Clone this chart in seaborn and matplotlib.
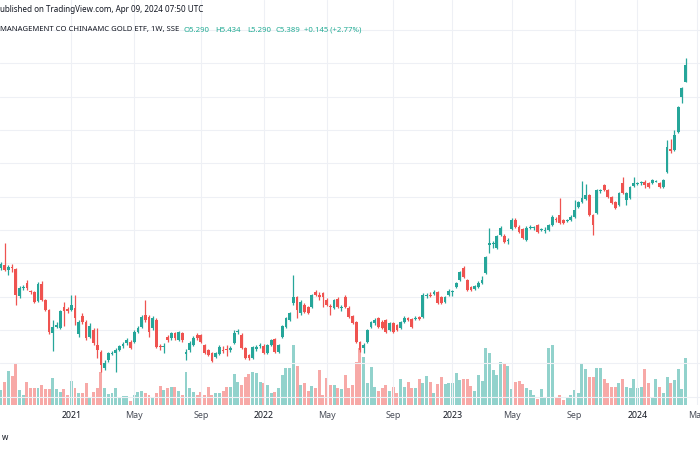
import numpy as np
import pandas as pd
import seaborn as sns
import matplotlib.pyplot as plt

# weekly OHLC of the ChinaAMC Gold ETF (SSE)
opens = [4.172, 4.190, 4.160, 4.178, 4.166, 4.004, 4.052, 4.082, 4.034, 4.028,
         3.974, 4.076, 3.980, 3.920, 3.782, 3.818, 3.812, 3.938, 3.926, 3.920,
         3.932, 3.776, 3.884, 3.848, 3.758, 3.800, 3.710, 3.668, 3.572, 3.620,
         3.656, 3.662, 3.680, 3.704, 3.722, 3.728, 3.728, 3.788, 3.818, 3.890,
         3.878, 3.812, 3.860, 3.704, 3.698, 3.758, 3.752, 3.782, 3.740, 3.782,
         3.656, 3.680, 3.710, 3.770, 3.770, 3.710, 3.680, 3.662, 3.638, 3.656,
         3.680, 3.686, 3.680, 3.722, 3.788, 3.770, 3.692, 3.650, 3.632, 3.686,
         3.704, 3.704, 3.662, 3.710, 3.746, 3.668, 3.758, 3.818, 3.860, 3.962,
         3.998, 3.902, 3.950, 3.938, 3.938, 4.028, 4.010, 4.022, 3.980, 3.944,
         3.932, 3.986, 3.932, 3.998, 3.932, 3.884, 3.848, 3.728, 3.692, 3.728,
         3.818, 3.842, 3.872, 3.848, 3.860, 3.800, 3.842, 3.830, 3.812, 3.848,
         3.872, 3.866, 3.866, 3.878, 3.878, 4.004, 4.010, 4.016, 4.028, 3.998,
         3.968, 4.010, 4.028, 4.058, 4.100, 4.172, 4.100, 4.058, 4.046, 4.058,
         4.082, 4.142, 4.310, 4.316, 4.292, 4.370, 4.364, 4.334, 4.406, 4.460,
         4.418, 4.406, 4.340, 4.412, 4.412, 4.430, 4.400, 4.394, 4.400, 4.430,
         4.466, 4.490, 4.460, 4.454, 4.460, 4.478, 4.538, 4.568, 4.586, 4.610,
         4.490, 4.502, 4.634, 4.670, 4.640, 4.598, 4.568, 4.550, 4.682, 4.580,
         4.592, 4.664, 4.676, 4.682, 4.688, 4.682, 4.682, 4.688, 4.682, 4.658,
         4.748, 4.886, 4.880, 4.988, 5.198, 5.290]
highs = [4.208, 4.322, 4.190, 4.196, 4.172, 4.064, 4.070, 4.100, 4.040, 4.034,
         4.088, 4.094, 3.986, 3.926, 3.860, 3.848, 3.920, 3.968, 3.938, 4.010,
         4.010, 3.860, 3.902, 3.860, 3.842, 3.812, 3.812, 3.680, 3.620, 3.668,
         3.674, 3.692, 3.710, 3.728, 3.752, 3.740, 3.800, 3.824, 3.890, 3.980,
         3.890, 3.884, 3.872, 3.716, 3.722, 3.770, 3.788, 3.788, 3.794, 3.788,
         3.686, 3.734, 3.764, 3.782, 3.776, 3.716, 3.686, 3.668, 3.668, 3.710,
         3.704, 3.710, 3.704, 3.800, 3.806, 3.782, 3.698, 3.656, 3.704, 3.710,
         3.722, 3.716, 3.716, 3.746, 3.752, 3.716, 3.830, 3.878, 3.908, 4.130,
         4.004, 3.980, 3.962, 3.944, 4.016, 4.040, 4.028, 4.028, 3.992, 3.956,
         3.986, 3.998, 3.950, 4.010, 3.944, 3.890, 3.854, 3.734, 3.722, 3.806,
         3.854, 3.872, 3.878, 3.860, 3.866, 3.848, 3.848, 3.836, 3.854, 3.884,
         3.878, 3.872, 3.884, 3.884, 4.022, 4.022, 4.028, 4.040, 4.034, 4.004,
         4.004, 4.046, 4.040, 4.088, 4.154, 4.184, 4.106, 4.064, 4.070, 4.094,
         4.124, 4.244, 4.412, 4.334, 4.370, 4.424, 4.376, 4.352, 4.472, 4.472,
         4.430, 4.412, 4.424, 4.430, 4.424, 4.436, 4.412, 4.418, 4.436, 4.490,
         4.478, 4.592, 4.466, 4.466, 4.490, 4.580, 4.574, 4.694, 4.676, 4.616,
         4.496, 4.646, 4.646, 4.676, 4.646, 4.604, 4.574, 4.628, 4.718, 4.628,
         4.664, 4.718, 4.688, 4.694, 4.700, 4.688, 4.706, 4.700, 4.688, 4.706,
         4.940, 4.946, 5.000, 5.144, 5.258, 5.434]
lows = [4.160, 4.154, 4.130, 4.148, 3.950, 3.992, 4.040, 4.040, 4.016, 3.962,
        3.968, 3.974, 3.914, 3.776, 3.674, 3.812, 3.806, 3.824, 3.902, 3.914,
        3.830, 3.758, 3.836, 3.740, 3.752, 3.710, 3.632, 3.548, 3.560, 3.608,
        3.650, 3.548, 3.674, 3.692, 3.710, 3.686, 3.722, 3.782, 3.812, 3.848,
        3.758, 3.800, 3.692, 3.680, 3.662, 3.728, 3.740, 3.740, 3.734, 3.728,
        3.620, 3.668, 3.704, 3.740, 3.722, 3.656, 3.644, 3.608, 3.632, 3.650,
        3.662, 3.644, 3.668, 3.716, 3.776, 3.686, 3.626, 3.620, 3.626, 3.674,
        3.692, 3.656, 3.656, 3.704, 3.662, 3.662, 3.752, 3.812, 3.854, 3.950,
        3.872, 3.890, 3.902, 3.896, 3.932, 4.004, 3.980, 3.938, 3.944, 3.890,
        3.926, 3.932, 3.914, 3.932, 3.872, 3.836, 3.722, 3.668, 3.662, 3.722,
        3.812, 3.830, 3.812, 3.806, 3.782, 3.794, 3.782, 3.794, 3.806, 3.842,
        3.854, 3.812, 3.860, 3.860, 3.872, 3.992, 3.998, 4.010, 3.956, 3.956,
        3.962, 4.004, 4.004, 4.052, 4.094, 4.112, 4.034, 4.034, 4.040, 4.052,
        4.076, 4.136, 4.262, 4.292, 4.286, 4.364, 4.322, 4.316, 4.400, 4.412,
        4.382, 4.346, 4.334, 4.406, 4.400, 4.382, 4.394, 4.382, 4.394, 4.424,
        4.448, 4.436, 4.436, 4.448, 4.454, 4.472, 4.532, 4.562, 4.580, 4.484,
        4.370, 4.496, 4.622, 4.634, 4.592, 4.556, 4.526, 4.544, 4.616, 4.550,
        4.586, 4.658, 4.670, 4.670, 4.652, 4.652, 4.676, 4.688, 4.652, 4.652,
        4.742, 4.862, 4.874, 4.982, 5.162, 5.290]
closes = [4.196, 4.160, 4.178, 4.172, 4.010, 4.052, 4.058, 4.052, 4.028, 3.968,
          4.076, 3.980, 3.920, 3.788, 3.818, 3.830, 3.914, 3.914, 3.914, 3.950,
          3.872, 3.848, 3.848, 3.752, 3.824, 3.722, 3.680, 3.590, 3.602, 3.662,
          3.662, 3.680, 3.704, 3.716, 3.740, 3.692, 3.788, 3.812, 3.878, 3.860,
          3.788, 3.872, 3.698, 3.698, 3.704, 3.740, 3.782, 3.752, 3.788, 3.740,
          3.668, 3.722, 3.752, 3.752, 3.728, 3.662, 3.650, 3.614, 3.662, 3.698,
          3.674, 3.680, 3.692, 3.782, 3.794, 3.692, 3.632, 3.632, 3.698, 3.698,
          3.710, 3.662, 3.710, 3.740, 3.668, 3.710, 3.824, 3.872, 3.902, 3.998,
          3.920, 3.968, 3.908, 3.902, 4.010, 4.010, 3.998, 3.998, 3.950, 3.938,
          3.980, 3.938, 3.938, 3.938, 3.878, 3.842, 3.728, 3.680, 3.710, 3.800,
          3.848, 3.860, 3.818, 3.812, 3.788, 3.842, 3.788, 3.800, 3.848, 3.872,
          3.860, 3.818, 3.872, 3.866, 4.010, 4.010, 4.004, 4.028, 3.962, 3.962,
          3.998, 4.034, 4.034, 4.082, 4.148, 4.118, 4.040, 4.040, 4.064, 4.082,
          4.100, 4.238, 4.322, 4.322, 4.364, 4.412, 4.328, 4.340, 4.460, 4.418,
          4.388, 4.352, 4.412, 4.418, 4.418, 4.388, 4.406, 4.400, 4.430, 4.478,
          4.460, 4.442, 4.442, 4.460, 4.478, 4.520, 4.568, 4.592, 4.610, 4.490,
          4.430, 4.640, 4.640, 4.640, 4.598, 4.562, 4.532, 4.622, 4.622, 4.622,
          4.658, 4.682, 4.682, 4.688, 4.670, 4.658, 4.700, 4.694, 4.658, 4.700,
          4.898, 4.874, 4.970, 5.138, 5.252, 5.389]
volume = [15, 23, 34, 29, 42, 15, 10, 23, 17, 17, 17, 20, 16, 16, 27, 16, 13, 16, 10, 24,
          17, 12, 12, 22, 8, 13, 17, 33, 17, 11, 12, 17, 8, 9, 9, 4, 10, 13, 14, 12,
          10, 8, 12, 19, 15, 17, 18, 18, 14, 10, 33, 17, 13, 10, 13, 10, 18, 10, 12, 12,
          14, 18, 18, 31, 23, 20, 28, 31, 33, 32, 23, 22, 20, 12, 13, 17, 30, 37, 37, 60,
          39, 20, 22, 14, 19, 17, 35, 10, 27, 20, 20, 17, 16, 30, 17, 20, 43, 57, 48, 22,
          38, 18, 14, 17, 20, 14, 18, 12, 26, 18, 23, 17, 17, 26, 22, 29, 23, 12, 21, 28,
          21, 22, 22, 32, 25, 26, 26, 19, 14, 30, 24, 57, 52, 35, 30, 43, 42, 39, 16, 23,
          24, 21, 17, 15, 10, 6, 16, 7, 57, 60, 7, 10, 5, 8, 10, 15, 12, 42, 36, 28,
          28, 37, 37, 26, 22, 18, 18, 22, 26, 18, 17, 26, 17, 18, 36, 22, 8, 26, 18, 12,
          28, 22, 25, 36, 16, 47]

# first bar of each labelled period (TradingView style bar index axis)
tick_bars = [19, 36, 54, 71, 88, 106, 122, 138, 155, 172, 188]
tick_labels = ["2021", "May", "Sep", "2022", "May", "Sep", "2023", "May", "Sep", "2024", "May"]

GREEN = "#26a69a"
RED = "#ef5350"

df = pd.DataFrame({"open": opens, "high": highs, "low": lows, "close": closes, "volume": volume})
df["bar"] = np.arange(len(df))
df["dir"] = np.where(df["close"] >= df["open"], "up", "down")

sns.set_theme(style="white")
plt.rcParams["font.family"] = ["Noto Sans", "DejaVu Sans"]

fig = plt.figure(figsize=(7, 4.5), dpi=100)
vol_ax = fig.add_axes([0, 0.1, 1, 0.9])
ax = fig.add_axes([0, 0.1, 1, 0.9], sharex=vol_ax)
ax.patch.set_visible(False)

# volume, overlaid at the bottom
sns.barplot(data=df, x="bar", y="volume", hue="dir", native_scale=True, dodge=False,
            palette={"up": "#92d2cc", "down": "#f7a9a7"}, width=0.8, saturation=1,
            legend=False, linewidth=0, ax=vol_ax)
vol_ax.set_ylim(0, max(volume) * 405 / 60)
vol_ax.set_yticks([])
vol_ax.set_xlabel("")
vol_ax.set_ylabel("")

# candles
cols = np.where(df["dir"] == "up", GREEN, RED)
ax.vlines(df["bar"], df["low"], df["high"], colors=cols, linewidth=0.9, zorder=3)
body = np.maximum((df["close"] - df["open"]).abs(), 0.004)
ax.bar(df["bar"], body, bottom=np.minimum(df["open"], df["close"]), width=0.75,
       color=cols, linewidth=0, zorder=4)

ax.set_ylim(3.35, 5.78)
ax.set_xlim(-0.27, 188.9)
ax.set_yticks(np.arange(3.4, 5.7, 0.2))
ax.tick_params(axis="y", labelleft=False, left=False)
ax.set_xticks(tick_bars)
ax.set_xticklabels(tick_labels)
ax.tick_params(axis="x", length=0, pad=4, labelsize=6.4, colors="#131722")
for lab in ax.get_xticklabels():
    if lab.get_text().isdigit():
        lab.set_fontweight("bold")
    else:
        lab.set_color("#4a4e59")
vol_ax.tick_params(axis="x", labelbottom=False, length=0)
ax.grid(True, color="#eef0f5", linewidth=0.8)
ax.set_axisbelow(True)
for a in (ax, vol_ax):
    for s in a.spines.values():
        s.set_visible(False)
ax.set_xlabel("")
ax.set_ylabel("")

# header
fig.text(0.0, 1 - 10 / 450, "ublished on TradingView.com, Apr 09, 2024 07:50 UTC",
         fontsize=5.8, color="#131722", va="center", ha="left")
fig.text(0.0, 1 - 30 / 450, "MANAGEMENT CO CHINAAMC GOLD ETF, 1W, SSE",
         fontsize=5.5, color="#131722", va="center", ha="left")
ohlc = [("O5.290", 183), ("H5.434", 215), ("L5.290", 247), ("C5.389", 276), ("+0.145 (+2.77%)", 304)]
for txt, xp in ohlc:
    fig.text(xp / 700, 1 - 30 / 450, txt, fontsize=5.6, color="#22ab94", va="center", ha="left")
fig.text(2 / 700, 1 - 438 / 450, "w", fontsize=5.8, color="#131722", va="center", ha="left")

fig.savefig("out.png", dpi=100)
